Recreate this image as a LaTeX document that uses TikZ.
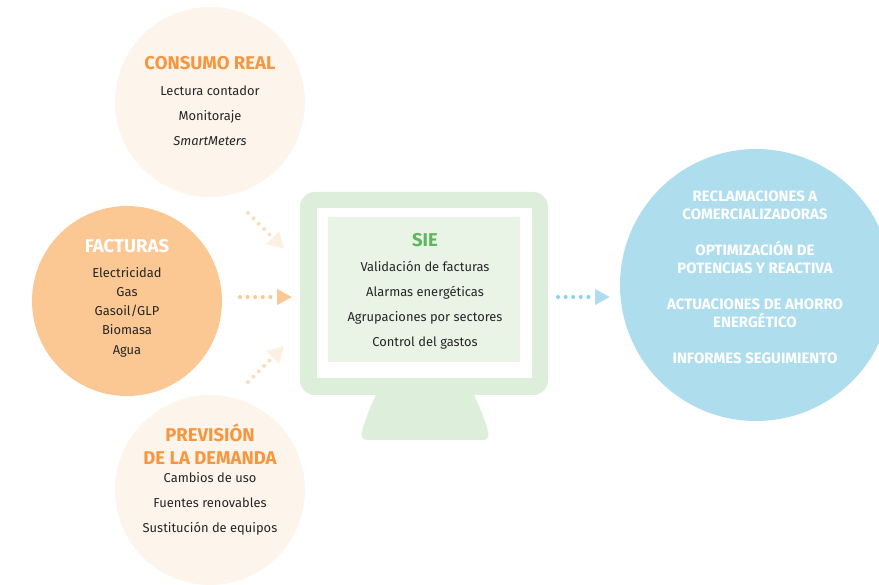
\documentclass[tikz,border=0pt]{standalone}
\usepackage{fontspec}
\setmainfont{Fira Sans}
\usetikzlibrary{arrows.meta}
\definecolor{cream}{HTML}{FDF5EB}
\definecolor{peach}{HTML}{FBC894}
\definecolor{paledot}{HTML}{FCDDBE}
\definecolor{palehead}{HTML}{FDF0E2}
\definecolor{headorange}{HTML}{F7963F}
\definecolor{skyblue}{HTML}{AEDEEE}
\definecolor{bluedot}{HTML}{8AD3EA}
\definecolor{screengreen}{HTML}{DDEEDA}
\definecolor{panelgreen}{HTML}{E9F3E6}
\definecolor{siegreen}{HTML}{5CB85C}
\definecolor{ink}{HTML}{262626}
\tikzset{
  bubble/.style={circle, inner sep=0pt, minimum size=190pt},
  title/.style={font=\fontsize{18.5}{23}\selectfont\bfseries, align=center, inner sep=0pt},
  items/.style={font=\fontsize{12.9}{25}\selectfont, text=ink, align=center, inner sep=0pt},
  dotflow/.style={line width=4pt, line cap=round, dash pattern=on 0pt off 7.6pt},
}
\begin{document}
\begin{tikzpicture}[x=1pt,y=-1pt]
  \useasboundingbox (0,0) rectangle (879,585);
  % circles
  \node[bubble, fill=cream] (cons) at (210,102) {};
  \node[bubble, fill=peach] (fact) at (127,301) {};
  \node[bubble, fill=cream] (prev) at (210,490) {};
  \node[circle, inner sep=0pt, minimum size=272pt, fill=skyblue] (out) at (756,285) {};
  % monitor
  \fill[screengreen, rounded corners=7pt] (382,380) .. controls (374,400) and (366,415) .. (360,440) -- (490,440) .. controls (484,415) and (476,400) .. (468,380) -- cycle;
  \node[fill=screengreen, rounded corners=15pt, minimum width=248pt, minimum height=203pt] (screen) at (424,293.5) {};
  \node[fill=white, minimum width=215pt, minimum height=170pt] (glass) at (424.5,293) {};
  \node[fill=panelgreen, minimum width=192pt, minimum height=145pt] (panel) at (424,289.5) {};
  % texts
  \node[title, text=headorange] (cons-t) at (210,63) {CONSUMO REAL};
  \node[items] (cons-i) at (210,115.5) {Lectura contador\\Monitoraje\\\textit{SmartMeters}};
  \node[title, text=white] (fact-t) at (127,246) {FACTURAS};
  \node[items, font=\fontsize{12.9}{19.2}\selectfont] (fact-i) at (127,312) {Electricidad\\Gas\\Gasoil/GLP\\Biomasa\\Agua};
  \node[title, text=headorange] (prev-t) at (210,444.5) {PREVISIÓN\\DE LA DEMANDA};
  \node[items] (prev-i) at (210,503.5) {Cambios de uso\\Fuentes renovables\\Sustitución de equipos};
  \node[title, text=siegreen] (sie-t) at (425,240) {SIE};
  \node[items] (sie-i) at (425,305.5) {Validación de facturas\\Alarmas energéticas\\Agrupaciones por sectores\\Control del gastos};
  \node[font=\fontsize{15}{18}\selectfont\bfseries, text=white, align=center, inner sep=0pt] (out-i) at (755,277.5)
    {RECLAMACIONES A\\COMERCIALIZADORAS\\[18pt]OPTIMIZACIÓN DE\\POTENCIAS Y REACTIVA\\[18pt]ACTUACIONES DE AHORRO\\ENERGÉTICO\\[18pt]INFORMES SEGUIMIENTO};
  % arrows
  \coordinate (c1) at (248,213);
  \coordinate (c2) at (284,249);
  \coordinate (f1) at (240,297);
  \coordinate (f2) at (292,297);
  \coordinate (p1) at (248,382);
  \coordinate (p2) at (284,346);
  \coordinate (o1) at (558,297);
  \coordinate (o2) at (610,297);
  \draw[dotflow, color=paledot, -{Triangle[length=16pt, width=17pt, color=palehead]}] (c1) -- (c2);
  \draw[dotflow, color=paledot, -{Triangle[length=16pt, width=17pt, color=palehead]}] (p1) -- (p2);
  \draw[dotflow, color=peach, -{Triangle[length=15pt, width=15pt, color=peach]}] (f1) -- (f2);
  \draw[dotflow, color=bluedot, -{Triangle[length=15pt, width=15pt, color=skyblue]}] (o1) -- (o2);
\end{tikzpicture}
\end{document}
